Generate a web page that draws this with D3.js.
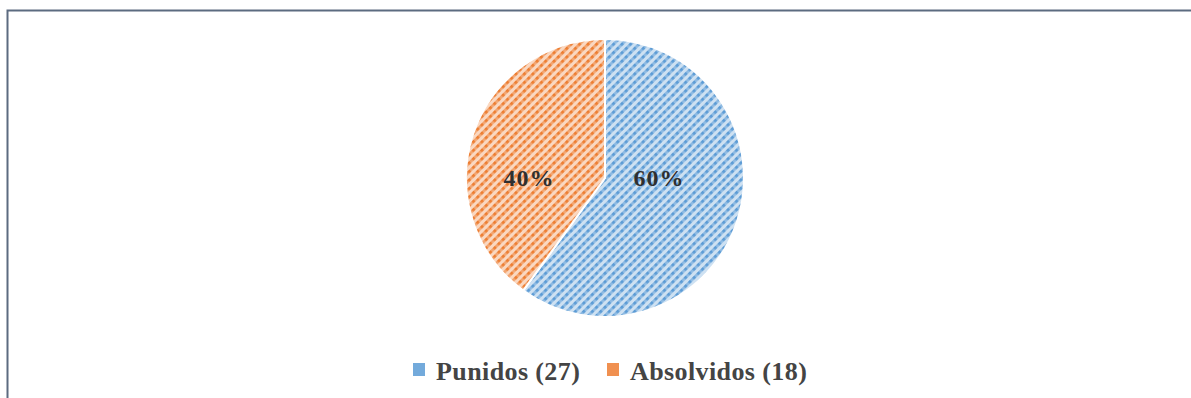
<!DOCTYPE html>
<html>
<head>
<meta charset="utf-8">
<script src="https://cdn.jsdelivr.net/npm/d3@7"></script>
<style>
  html, body { margin: 0; padding: 0; background: #fff; }
  svg { display: block; }
</style>
</head>
<body>
<svg id="chart" width="1191" height="398"></svg>
<script>
const categories = ["Punidos", "Absolvidos"];
const counts = [27, 18];
const percentLabels = ["60%", "40%"];
const colors = ["#5b9bd5", "#ed7d31"];

const svg = d3.select("#chart");
const W = 1191, H = 398;

svg.append("rect").attr("width", W).attr("height", H).attr("fill", "#fff");

// Hatched fills for the slices
const defs = svg.append("defs");
colors.forEach((c, i) => {
  const p = defs.append("pattern")
    .attr("id", "hatch" + i)
    .attr("patternUnits", "userSpaceOnUse")
    .attr("width", 6).attr("height", 6)
    .attr("patternTransform", "rotate(45)");
  p.append("rect").attr("width", 6).attr("height", 6)
    .attr("fill", d3.interpolateRgb(c, "#fff")(0.7));
  p.append("rect").attr("x", 0).attr("y", 0).attr("width", 2.8).attr("height", 6)
    .attr("fill", d3.interpolateRgb(c, "#fff")(0.3));
  p.append("rect").attr("x", 0).attr("y", 0).attr("width", 2.8).attr("height", 2.8)
    .attr("fill", c);
});

// Chart frame (left and top edges)
svg.append("path")
  .attr("d", `M7.5,${H} L7.5,10.5 L${W},10.5`)
  .attr("fill", "none")
  .attr("stroke", "#5c6b80")
  .attr("stroke-width", 2);

const cx = 605, cy = 178, r = 139;
const pie = d3.pie().sort(null).value(d => d)(counts);
const arc = d3.arc().innerRadius(0).outerRadius(r);

const g = svg.append("g").attr("transform", `translate(${cx},${cy})`);
g.selectAll("path.slice")
  .data(pie)
  .join("path")
  .attr("class", "slice")
  .attr("d", arc)
  .attr("fill", (d, i) => `url(#hatch${i})`)
  .attr("stroke", "#fff")
  .attr("stroke-width", 2);

// Percentage labels, placed inside each slice near the centre line
const labelOffsetX = [54, -76];
g.selectAll("text.pct")
  .data(pie)
  .join("text")
  .attr("class", "pct")
  .attr("transform", (d, i) => `translate(${labelOffsetX[i]},0)`)
  .attr("text-anchor", "middle")
  .attr("dy", "0.35em")
  .attr("font-family", "'Liberation Serif', 'Times New Roman', serif")
  .attr("font-weight", "bold")
  .attr("font-size", 24)
  .attr("letter-spacing", 1)
  .attr("fill", "#2f2f2f")
  .text((d, i) => percentLabels[i]);

// Legend
const legendX = [413, 607];
const legend = svg.append("g");
categories.forEach((name, i) => {
  legend.append("rect")
    .attr("x", legendX[i]).attr("y", 363)
    .attr("width", 12).attr("height", 13)
    .attr("fill", colors[i])
    .attr("opacity", 0.85);
  legend.append("text")
    .attr("x", legendX[i] + 23).attr("y", 380)
    .attr("font-family", "'Liberation Serif', 'Times New Roman', serif")
    .attr("font-weight", "bold")
    .attr("font-size", 26)
    .attr("letter-spacing", 0.4)
    .attr("fill", "#444")
    .text(`${name} (${counts[i]})`);
});
</script>
</body>
</html>
